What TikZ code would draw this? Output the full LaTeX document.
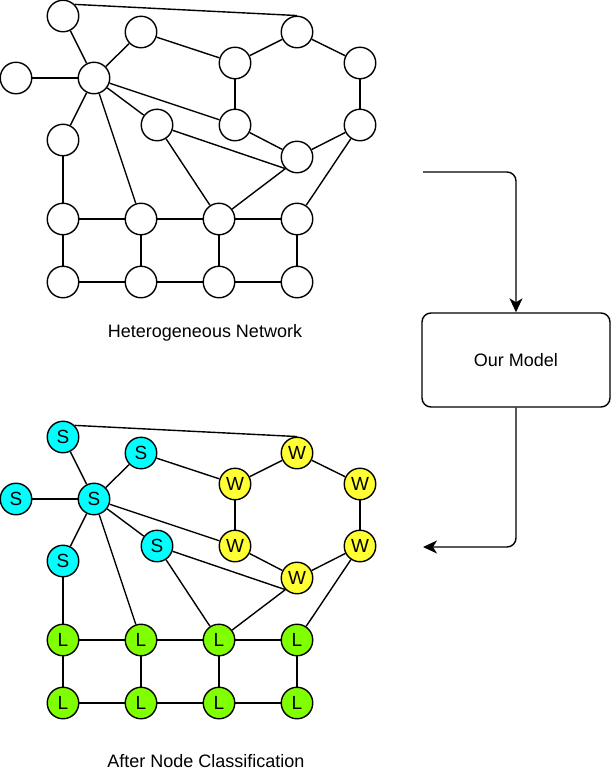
\documentclass[tikz,border=0pt]{standalone}
\usepackage{fontspec}
\setmainfont{Liberation Sans}
\usepackage{tikz}
\usetikzlibrary{arrows.meta,positioning}

\definecolor{scyan}{RGB}{0,255,255}
\definecolor{wyellow}{RGB}{255,255,51}
\definecolor{lgreen}{RGB}{128,255,0}

\begin{document}
\begin{tikzpicture}[
  x=1pt, y=-1pt,
  vert/.style={draw, circle, fill=white, minimum size=31.5pt, inner sep=0pt,
    line width=1.4pt, font=\fontsize{19}{19}\selectfont},
  snode/.style={vert, fill=scyan},
  wnode/.style={vert, fill=wyellow},
  lnode/.style={vert, fill=lgreen},
  edge/.style={line width=1.4pt},
  modelbox/.style={draw, rounded corners=9pt, line width=1.4pt,
    minimum width=188pt, minimum height=94pt, font=\fontsize{18}{18}\selectfont},
  caption/.style={font=\fontsize{18}{18}\selectfont, anchor=base},
  arrow/.style={-{Stealth[length=14pt, width=13pt, inset=4pt]}, line width=1.4pt,
    rounded corners=9pt}
]
\useasboundingbox (0,0) rectangle (611,780);

% heterogeneous network
\node[vert] (ta) at (63,16) {};
\node[vert] (tc) at (141,32) {};
\node[vert] (tb) at (297,32) {};
\node[vert] (td) at (16,78) {};
\node[vert] (te) at (94,78) {};
\node[vert] (tf) at (235,63) {};
\node[vert] (tg) at (360,63) {};
\node[vert] (th) at (157,125) {};
\node[vert] (ti) at (235,125) {};
\node[vert] (tj) at (360,125) {};
\node[vert] (tk) at (63,140) {};
\node[vert] (tm) at (297,157) {};
\node[vert] (tr1) at (63,219) {};
\node[vert] (tr2) at (141,219) {};
\node[vert] (tr3) at (219,219) {};
\node[vert] (tr4) at (297,219) {};
\node[vert] (tq1) at (63,282) {};
\node[vert] (tq2) at (141,282) {};
\node[vert] (tq3) at (219,282) {};
\node[vert] (tq4) at (297,282) {};
\draw[edge] (ta.45) -- (tb.north);
\draw[edge] (ta) -- (te);
\draw[edge] (tc) -- (te);
\draw[edge] (tc) -- (tf);
\draw[edge] (tf) -- (tb);
\draw[edge] (tb) -- (tg);
\draw[edge] (tg) -- (tj);
\draw[edge] (tj) -- (tm);
\draw[edge] (tf) -- (ti);
\draw[edge] (ti) -- (tm);
\draw[edge] (te) -- (td);
\draw[edge] (te) -- (th);
\draw[edge] (te) -- (ti);
\draw[edge] (te) -- (tk);
\draw[edge] (te) -- (tr2);
\draw[edge] (th) -- (tm.225);
\draw[edge] (th) -- (tr3);
\draw[edge] (tr3) -- (tm.225);
\draw[edge] (tj) -- (tr4);
\draw[edge] (tk) -- (tr1);
\draw[edge] (tr1) -- (tr2);
\draw[edge] (tr2) -- (tr3);
\draw[edge] (tr3) -- (tr4);
\draw[edge] (tq1) -- (tq2);
\draw[edge] (tq2) -- (tq3);
\draw[edge] (tq3) -- (tq4);
\draw[edge] (tr1) -- (tq1);
\draw[edge] (tr2) -- (tq2);
\draw[edge] (tr3) -- (tq3);
\draw[edge] (tr4) -- (tq4);
\node[caption] (tcap) at (205,337) {Heterogeneous Network};

% model and arrows
\node[modelbox] (model) at (516,360) {Our Model};
\coordinate (in) at (423,172);
\coordinate (out) at (423,547);
\draw[arrow] (in) -| (model.north);
\draw[arrow] (model.south) |- (out);

% after classification
\node[snode] (ba) at (63,437) {S};
\node[snode] (bc) at (141,453) {S};
\node[wnode] (bb) at (297,453) {W};
\node[snode] (bd) at (16,499) {S};
\node[snode] (be) at (94,499) {S};
\node[wnode] (bf) at (235,484) {W};
\node[wnode] (bg) at (360,484) {W};
\node[snode] (bh) at (157,546) {S};
\node[wnode] (bi) at (235,546) {W};
\node[wnode] (bj) at (360,546) {W};
\node[snode] (bk) at (63,561) {S};
\node[wnode] (bm) at (297,578) {W};
\node[lnode] (br1) at (63,640) {L};
\node[lnode] (br2) at (141,640) {L};
\node[lnode] (br3) at (219,640) {L};
\node[lnode] (br4) at (297,640) {L};
\node[lnode] (bq1) at (63,703) {L};
\node[lnode] (bq2) at (141,703) {L};
\node[lnode] (bq3) at (219,703) {L};
\node[lnode] (bq4) at (297,703) {L};
\draw[edge] (ba.45) -- (bb.north);
\draw[edge] (ba) -- (be);
\draw[edge] (bc) -- (be);
\draw[edge] (bc) -- (bf);
\draw[edge] (bf) -- (bb);
\draw[edge] (bb) -- (bg);
\draw[edge] (bg) -- (bj);
\draw[edge] (bj) -- (bm);
\draw[edge] (bf) -- (bi);
\draw[edge] (bi) -- (bm);
\draw[edge] (be) -- (bd);
\draw[edge] (be) -- (bh);
\draw[edge] (be) -- (bi);
\draw[edge] (be) -- (bk);
\draw[edge] (be) -- (br2);
\draw[edge] (bh) -- (bm.225);
\draw[edge] (bh) -- (br3);
\draw[edge] (br3) -- (bm.225);
\draw[edge] (bj) -- (br4);
\draw[edge] (bk) -- (br1);
\draw[edge] (br1) -- (br2);
\draw[edge] (br2) -- (br3);
\draw[edge] (br3) -- (br4);
\draw[edge] (bq1) -- (bq2);
\draw[edge] (bq2) -- (bq3);
\draw[edge] (bq3) -- (bq4);
\draw[edge] (br1) -- (bq1);
\draw[edge] (br2) -- (bq2);
\draw[edge] (br3) -- (bq3);
\draw[edge] (br4) -- (bq4);
\node[caption] (bcap) at (206,767) {After Node Classification};
\end{tikzpicture}
\end{document}
